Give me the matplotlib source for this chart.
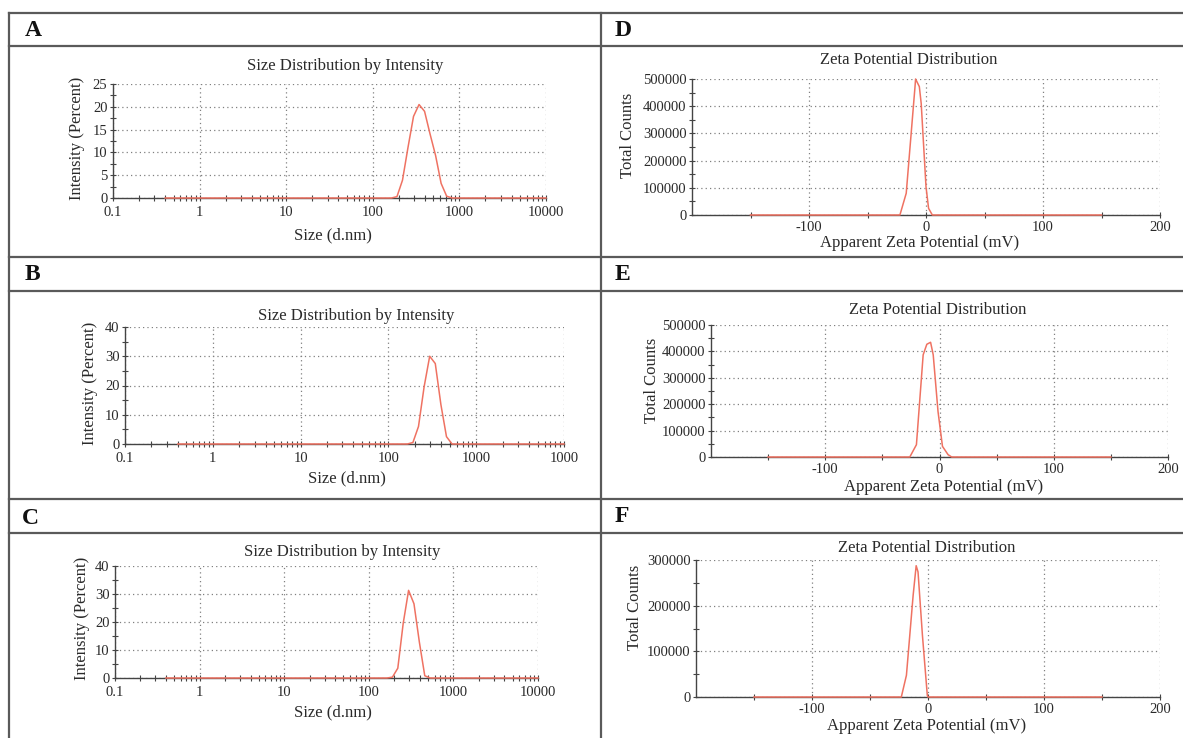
import numpy as np
import matplotlib
matplotlib.use("Agg")
import matplotlib.pyplot as plt
from matplotlib.ticker import NullFormatter, MultipleLocator, FixedLocator

plt.rcParams['font.family'] = ['Liberation Serif', 'DejaVu Serif']
plt.rcParams['axes.unicode_minus'] = False

# ---- data ----
# size distributions (d.nm vs intensity %)
size_A = [0.4, 164.2, 190.1, 220.2, 255.0, 295.3, 342.0, 396.1, 458.7, 531.2, 615.1, 712.4, 825.0, 10000]
int_A = [0, 0, 0.3, 3.9, 11.1, 17.9, 20.5, 19.0, 14.0, 9.3, 3.2, 0.4, 0, 0]

size_B = [0.4, 164.2, 190.1, 220.2, 255.0, 295.3, 342.0, 396.1, 458.7, 531.2, 10000]
int_B = [0, 0, 0.5, 6.0, 19.5, 30.0, 27.5, 13.5, 2.5, 0, 0]

size_C = [0.4, 164.2, 190.1, 220.2, 255.0, 295.3, 342.0, 396.1, 458.7, 531.2, 10000]
int_C = [0, 0, 0.3, 3.5, 19.5, 31.3, 26.5, 12.8, 0.8, 0, 0]

# zeta potential distributions (mV vs total counts)
zeta_D = [-150, -22.3, -16.9, -9.5, -8.9, -5.7, -4.1, 0.0, 2.2, 5.4, 150]
counts_D = [0, 0, 80000, 466000, 500000, 472000, 410000, 104000, 24500, 0, 0]

zeta_E = [-150, -26.0, -20.2, -14.3, -11.1, -7.8, -5.5, -1.3, 2.6, 7.5, 10.7, 150]
counts_E = [0, 0, 46600, 387000, 427000, 434500, 387000, 172500, 40300, 8800, 0, 0]

zeta_F = [-150, -23.0, -18.6, -12.8, -10.2, -8.6, -4.8, -0.6, 0.0, 150]
counts_F = [0, 0, 47600, 223000, 287500, 274000, 135000, 3700, 0, 0]

size_ticks = [0.1, 1, 10, 100, 1000, 10000]
size_labels_A = ['0.1', '1', '10', '100', '1000', '10000']
size_labels_B = ['0.1', '1', '10', '100', '1000', '1000']

W, H = 1183, 738
RED = '#ef7262'
INK = '#2a2a2a'
AX = '#444444'

fig = plt.figure(figsize=(W / 100, H / 100), dpi=100)


def rect(l, r, t, b):
    return [l / W, 1 - b / H, (r - l) / W, (b - t) / H]


def setup(box, title, tpos, xlab, xpos, ylab, ypos, xpad):
    l, r, t, b = box
    ax = fig.add_axes(rect(l, r, t, b))
    for s in ['top', 'right']:
        ax.spines[s].set_visible(False)
    for s in ['left', 'bottom']:
        ax.spines[s].set_color(AX)
        ax.spines[s].set_linewidth(1.0)
    ax.tick_params(which='both', direction='inout', length=4, width=0.8,
                   color=AX, labelcolor=INK, labelsize=10.5)
    ax.tick_params(axis='x', pad=xpad)
    ax.tick_params(axis='y', pad=2)
    ax.grid(True, which='major', linestyle=(0, (1, 2.5)), color='#808080', lw=0.9)
    ax.set_axisbelow(True)

    def ac(px, py):
        return (px - l) / (r - l), (b - py) / (b - t)

    ax.text(*ac(*tpos), title, transform=ax.transAxes, ha='center', va='center',
            fontsize=12, color=INK)
    ax.set_xlabel(xlab, fontsize=12, color=INK)
    ax.xaxis.set_label_coords(*ac(*xpos))
    ax.xaxis.label.set_va('center')
    ax.set_ylabel(ylab, fontsize=12, color=INK)
    ax.yaxis.set_label_coords(*ac(*ypos))
    ax.yaxis.label.set_va('center')
    return ax


def size_panel(box, tpos, xpos, ypos, x, y, ymax, ystep, labels):
    ax = setup(box, 'Size Distribution by Intensity', tpos, 'Size (d.nm)', xpos,
               'Intensity (Percent)', ypos, 4)
    ax.plot(x, y, color=RED, lw=1.1, zorder=3, clip_on=False)
    ax.set_xscale('log')
    ax.set_xlim(0.1, 10000)
    ax.set_ylim(0, ymax)
    ax.set_xticks(size_ticks, labels)
    ax.xaxis.set_minor_formatter(NullFormatter())
    ax.yaxis.set_major_locator(MultipleLocator(ystep))
    ax.yaxis.set_minor_locator(MultipleLocator(ystep / 2))
    return ax


def zeta_panel(box, tpos, xpos, ypos, x, y, ymax):
    ax = setup(box, 'Zeta Potential Distribution', tpos, 'Apparent Zeta Potential (mV)', xpos,
               'Total Counts', ypos, 2.5)
    ax.plot(x, y, color=RED, lw=1.1, zorder=3, clip_on=False)
    ax.set_xlim(-200, 200)
    ax.set_ylim(0, ymax)
    ax.set_xticks([-100, 0, 100, 200])
    ax.xaxis.set_minor_locator(FixedLocator([-150, -50, 50, 150]))
    ax.yaxis.set_major_locator(MultipleLocator(100000))
    ax.yaxis.set_minor_locator(MultipleLocator(50000))
    return ax


size_panel((113, 546, 84, 198), (345, 66), (333, 235), (77, 138), size_A, int_A, 25, 5, size_labels_A)
size_panel((125, 564, 327, 444), (356, 316), (347, 478), (90, 383), size_B, int_B, 40, 10, size_labels_B)
size_panel((115, 538, 566, 678), (342, 552), (333, 712), (82, 618), size_C, int_C, 40, 10, size_labels_A)

zeta_panel((692, 1160, 79, 215), (909, 60), (920, 243), (628, 135), zeta_D, counts_D, 500000)
zeta_panel((711, 1168, 325, 457), (938, 310), (944, 487), (652, 380), zeta_E, counts_E, 500000)
zeta_panel((696, 1160, 560, 697), (927, 548), (927, 726), (635, 607), zeta_F, counts_F, 300000)

# table frame
frame = fig.add_axes([0, 0, 1, 1])
frame.set_xlim(0, W)
frame.set_ylim(H, 0)
frame.axis('off')
frame.patch.set_alpha(0)
line_kw = dict(color='#5a5a5a', lw=1.6)
for y in [13, 46, 257, 291, 499, 533]:
    frame.plot([9, W], [y, y], **line_kw)
for x in [9, 601.5]:
    frame.plot([x, x], [13, H], **line_kw)

for letter, x, y in [('A', 25, 30), ('B', 25, 275), ('C', 22, 519),
                     ('D', 615, 30), ('E', 615, 275), ('F', 615, 517)]:
    frame.text(x, y, letter, fontsize=17, fontweight='bold', ha='left', va='center', color='#111')

fig.savefig('out.png', dpi=100)
